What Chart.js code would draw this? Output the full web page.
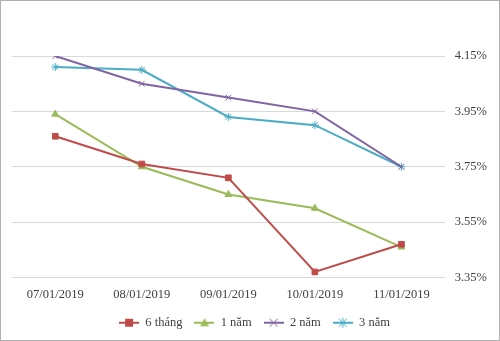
<!DOCTYPE html>
<html>
<head>
<meta charset="utf-8">
<script src="https://cdn.jsdelivr.net/npm/chart.js@4/dist/chart.umd.min.js"></script>
<style>
  html, body { margin: 0; padding: 0; background: #fff; }
  #wrap { width: 500px; height: 341px; box-sizing: border-box; border: 1px solid #b0b0b0; }
</style>
</head>
<body>
<div id="wrap"><canvas id="chart" width="498" height="339"></canvas></div>
<script>
// data
const dates = ['07/01/2019', '08/01/2019', '09/01/2019', '10/01/2019', '11/01/2019'];
const sixMonths = [3.86, 3.76, 3.71, 3.37, 3.47];
const oneYear = [3.94, 3.75, 3.65, 3.60, 3.46];
const twoYears = [4.15, 4.05, 4.00, 3.95, 3.75];
const threeYears = [4.11, 4.10, 3.93, 3.90, 3.75];
const yTicks = [3.35, 3.55, 3.75, 3.95, 4.15];

// legend swatch: short line with the marker in the middle
function swatch(color, style) {
    const c = document.createElement('canvas');
    c.width = 20; c.height = 12;
    const ctx = c.getContext('2d');
    ctx.strokeStyle = color;
    ctx.fillStyle = color;
    ctx.lineWidth = 2;
    ctx.beginPath(); ctx.moveTo(0, 6); ctx.lineTo(20, 6); ctx.stroke();
    ctx.lineWidth = 1;
    if (style === 'rect') {
        ctx.fillRect(6, 2, 8, 8);
    } else if (style === 'triangle') {
        ctx.beginPath(); ctx.moveTo(10, 1.5); ctx.lineTo(14.5, 9.5); ctx.lineTo(5.5, 9.5); ctx.closePath(); ctx.fill();
    } else if (style === 'crossRot') {
        ctx.beginPath(); ctx.moveTo(6, 2); ctx.lineTo(14, 10); ctx.moveTo(14, 2); ctx.lineTo(6, 10); ctx.stroke();
    } else {
        ctx.beginPath();
        ctx.moveTo(6, 2); ctx.lineTo(14, 10); ctx.moveTo(14, 2); ctx.lineTo(6, 10);
        ctx.moveTo(10, 1); ctx.lineTo(10, 11); ctx.moveTo(5, 6); ctx.lineTo(15, 6);
        ctx.stroke();
    }
    return c;
}

const series = [
    { label: '6 tháng', data: sixMonths, color: '#be4b48', style: 'rect' },
    { label: '1 năm', data: oneYear, color: '#9bbb59', style: 'triangle' },
    { label: '2 năm', data: twoYears, color: '#8064a2', style: 'crossRot' },
    { label: '3 năm', data: threeYears, color: '#4bacc6', style: 'star' }
];

const datasets = series.map(s => ({
    label: s.label,
    data: s.data,
    borderColor: s.color,
    backgroundColor: s.color,
    borderWidth: 2,
    pointStyle: s.style,
    pointRadius: 4,
    pointBorderWidth: 1,
    tension: 0,
    legendSwatch: swatch(s.color, s.style)
}));

new Chart(document.getElementById('chart'), {
    type: 'line',
    data: { labels: dates, datasets: datasets },
    options: {
        responsive: false,
        animation: false,
        layout: { padding: { top: 55, left: 11, right: 2, bottom: 1 } },
        scales: {
            x: {
                offset: true,
                grid: { display: false },
                border: { display: false },
                ticks: { color: '#404040', font: { family: 'Liberation Serif', size: 12.5 }, padding: 2, maxRotation: 0 }
            },
            y: {
                position: 'right',
                min: yTicks[0],
                max: yTicks[yTicks.length - 1],
                afterBuildTicks: (axis) => { axis.ticks = yTicks.map(v => ({ value: v })); },
                grid: { color: '#d9d9d9', drawTicks: false },
                border: { display: false },
                ticks: {
                    color: '#404040',
                    font: { family: 'Liberation Serif', size: 12.5 },
                    padding: 10,
                    callback: (v) => v.toFixed(2) + '%'
                }
            }
        },
        plugins: {
            legend: {
                position: 'bottom',
                labels: {
                    usePointStyle: true,
                    pointStyleWidth: 20,
                    color: '#404040',
                    font: { family: 'Liberation Serif', size: 12.5 },
                    padding: 12,
                    generateLabels: (chart) => chart.data.datasets.map((d, i) => ({
                        text: d.label,
                        pointStyle: d.legendSwatch,
                        fillStyle: d.borderColor,
                        strokeStyle: d.borderColor,
                        fontColor: '#404040',
                        lineWidth: 0,
                        datasetIndex: i
                    }))
                }
            },
            tooltip: { enabled: false }
        }
    }
});
</script>
</body>
</html>
